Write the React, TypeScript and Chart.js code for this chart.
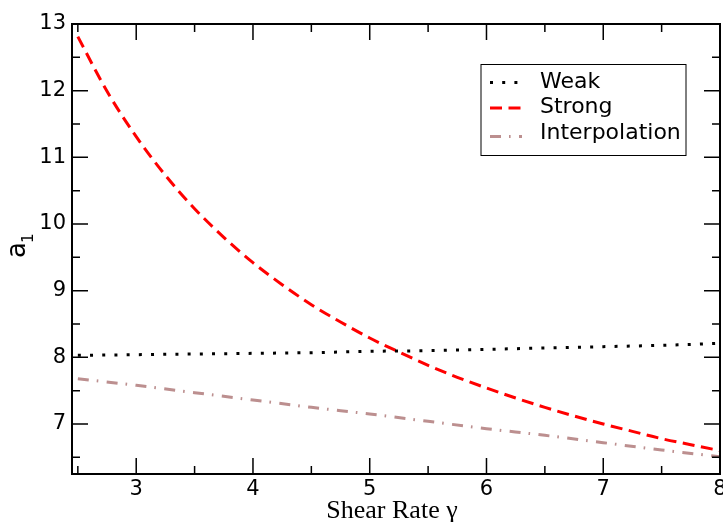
import { useEffect, useRef } from "react";
import { Chart, registerables } from "chart.js";

Chart.register(...registerables);

// ---- data ----
const strongX = [2.5, 2.75, 3, 3.25, 3.5, 3.75, 4, 4.25, 4.5, 4.75, 5, 5.25, 5.5, 5.75, 6, 6.25, 6.5, 6.75, 7, 7.25, 7.5, 7.75, 8];
const strongY = [12.81, 11.99, 11.31, 10.73, 10.23, 9.8, 9.42, 9.09, 8.79, 8.53, 8.29, 8.08, 7.88, 7.7, 7.54, 7.39, 7.25, 7.12, 7.0, 6.89, 6.78, 6.69, 6.6];
const weakX = [2.5, 3, 3.5, 4, 4.5, 5, 5.5, 6, 6.5, 7, 7.5, 8];
const weakY = [8.03, 8.04, 8.05, 8.06, 8.07, 8.09, 8.1, 8.12, 8.14, 8.16, 8.18, 8.21];
const interpX = [2.5, 3, 3.5, 4, 4.5, 5, 5.5, 6, 6.5, 7, 7.5, 8];
const interpY = [7.68, 7.58, 7.47, 7.36, 7.25, 7.15, 7.04, 6.93, 6.83, 6.72, 6.61, 6.51];

const seriesNames = ["Weak", "Strong", "Interpolation"];
const xMajorTicks = [3, 4, 5, 6, 7, 8];
const xMinorTicks = [2.5, 3.5, 4.5, 5.5, 6.5, 7.5];
const yMajorTicks = [7, 8, 9, 10, 11, 12, 13];
const yMinorTicks = [6.5, 7.5, 8.5, 9.5, 10.5, 11.5, 12.5];

const xTitle = "Shear Rate γ";
const yTitleMain = "a";
const yTitleSub = "1";

// ---- styles ----
const COLORS = ["#000000", "#ff0000", "#bc8f8f"];
const DASHES = [[3, 9.2], [12, 6.5], [11, 8, 1.6, 8.4]];
const WIDTHS = [3, 3, 3];

const toPoints = (xs: number[], ys: number[]) => xs.map((x, i) => ({ x, y: ys[i] }));

const framePlugin = {
  id: "graceFrame",
  afterDraw(chart: any) {
    const { ctx, chartArea: a, scales } = chart;
    const xs = scales.x;
    const ys = scales.y;
    ctx.save();
    // ticks (inward, all four sides)
    ctx.strokeStyle = "#000";
    ctx.lineWidth = 1.5;
    ctx.beginPath();
    const xt = (v: number, len: number) => {
      const p = xs.getPixelForValue(v);
      ctx.moveTo(p, a.bottom);
      ctx.lineTo(p, a.bottom - len);
      ctx.moveTo(p, a.top);
      ctx.lineTo(p, a.top + len);
    };
    const yt = (v: number, len: number) => {
      const p = ys.getPixelForValue(v);
      ctx.moveTo(a.left, p);
      ctx.lineTo(a.left + len, p);
      ctx.moveTo(a.right, p);
      ctx.lineTo(a.right - len, p);
    };
    xMajorTicks.forEach((v) => xt(v, 16));
    xMinorTicks.forEach((v) => xt(v, 8));
    yMajorTicks.forEach((v) => yt(v, 16));
    yMinorTicks.forEach((v) => yt(v, 8));
    ctx.stroke();
    // frame
    ctx.lineWidth = 2;
    ctx.strokeRect(a.left, a.top, a.right - a.left, a.bottom - a.top);

    // axis titles
    ctx.fillStyle = "#000";
    ctx.textBaseline = "alphabetic";
    ctx.textAlign = "center";
    ctx.font = "26px 'Liberation Serif'";
    ctx.fillText(xTitle, (a.left + a.right) / 2 - 4, chart.height - 4);

    ctx.save();
    const midY = (a.top + a.bottom) / 2;
    ctx.translate(a.left - 47, midY + 9);
    ctx.rotate(-Math.PI / 2);
    ctx.textAlign = "left";
    ctx.font = "26px 'DejaVu Sans'";
    ctx.fillText(yTitleMain, 0, 0);
    const w = ctx.measureText(yTitleMain).width;
    ctx.font = "15px 'DejaVu Sans'";
    ctx.fillText(yTitleSub, w - 1, 8);
    ctx.restore();

    // legend
    const boxL = a.right - 239;
    const boxT = a.top + 40.5;
    ctx.fillStyle = "#fff";
    ctx.fillRect(boxL, boxT, 205, 91);
    ctx.lineWidth = 1;
    ctx.strokeStyle = "#000";
    ctx.strokeRect(boxL, boxT, 205, 91);
    const lineYs = [18, 43.5, 72];
    const textYs = [17.5, 43, 69];
    seriesNames.forEach((name, i) => {
      ctx.save();
      ctx.strokeStyle = COLORS[i];
      ctx.lineWidth = WIDTHS[i];
      ctx.setLineDash(DASHES[i]);
      ctx.lineCap = "butt";
      ctx.beginPath();
      ctx.moveTo(boxL + 9, boxT + lineYs[i]);
      ctx.lineTo(boxL + 41, boxT + lineYs[i]);
      ctx.stroke();
      ctx.restore();
      ctx.fillStyle = "#000";
      ctx.font = "22px 'DejaVu Sans'";
      ctx.textBaseline = "middle";
      ctx.textAlign = "left";
      ctx.fillText(name, boxL + 59, boxT + textYs[i]);
    });
    ctx.restore();
  },
};

export default function App() {
  const ref = useRef<HTMLCanvasElement | null>(null);

  useEffect(() => {
    const canvas = ref.current;
    if (!canvas) return;
    const series = [toPoints(weakX, weakY), toPoints(strongX, strongY), toPoints(interpX, interpY)];
    const chart = new Chart(canvas, {
      type: "line",
      data: {
        datasets: series.map((pts, i) => ({
          label: seriesNames[i],
          data: pts,
          borderColor: COLORS[i],
          borderWidth: WIDTHS[i],
          borderDash: DASHES[i],
          borderCapStyle: "butt",
          pointRadius: 0,
          fill: false,
          cubicInterpolationMode: "monotone",
        })),
      },
      options: {
        animation: false,
        responsive: false,
        layout: { padding: { top: 24, right: 40, left: 0, bottom: 0 } },
        plugins: { legend: { display: false }, tooltip: { enabled: false } },
        scales: {
          x: {
            type: "linear",
            min: 2.45,
            max: 8,
            grid: { display: false, drawTicks: false },
            border: { display: false },
            afterBuildTicks: (s: any) => {
              s.ticks = xMajorTicks.map((v) => ({ value: v }));
            },
            afterFit: (s: any) => {
              s.height = 48;
            },
            ticks: {
              color: "#000",
              font: { family: "'DejaVu Sans'", size: 21 },
              padding: 3,
              maxRotation: 0,
              autoSkip: false,
              callback: (v: any) => String(v),
            },
            title: { display: false },
          },
          y: {
            type: "linear",
            min: 6.25,
            max: 13,
            grid: { display: false, drawTicks: false },
            border: { display: false },
            afterBuildTicks: (s: any) => {
              s.ticks = yMajorTicks.map((v) => ({ value: v }));
            },
            afterFit: (s: any) => {
              s.width = 72;
            },
            ticks: {
              color: "#000",
              font: { family: "'DejaVu Sans'", size: 21 },
              padding: 6,
              autoSkip: false,
              callback: (v: any) => String(v),
            },
            title: { display: false },
          },
        },
      },
      plugins: [framePlugin],
    } as any);
    return () => chart.destroy();
  }, []);

  return (
    <div style={{ position: "fixed", left: 0, top: 0, width: 723, height: 522, overflow: "hidden", background: "#fff" }}>
      <canvas ref={ref} width={760} height={522} style={{ display: "block", width: 760, height: 522 }} />
    </div>
  );
}
